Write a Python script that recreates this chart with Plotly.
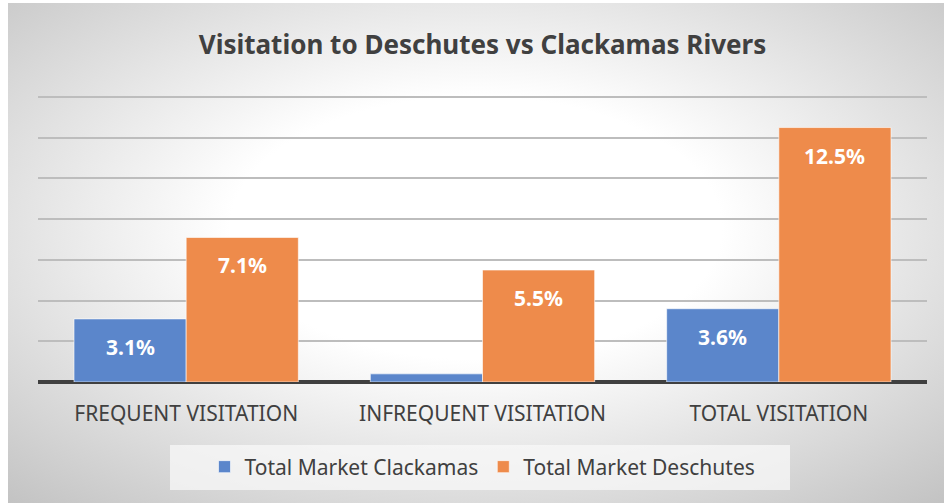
import plotly.graph_objects as go

# ── Data ──
categories = ["FREQUENT VISITATION", "INFREQUENT VISITATION", "TOTAL VISITATION"]
clackamas = [3.1, 0.4, 3.6]
deschutes = [7.1, 5.5, 12.5]
clackamas_labels = ["3.1%", "", "3.6%"]
deschutes_labels = ["7.1%", "5.5%", "12.5%"]

BLUE = "#5B86CB"
ORANGE = "#EE8B4B"
TEXT = "#404040"
FONT = "Noto Sans"

W, H = 944, 503
M = dict(l=38, r=17, t=96, b=121)
pw = W - M["l"] - M["r"]
ph = H - M["t"] - M["b"]

# radial gradient background (white centre, grey edges) as inline svg
bg_svg = (
    "data:image/svg+xml;utf8,"
    "<svg xmlns='http://www.w3.org/2000/svg' width='944' height='503'>"
    "<defs><radialGradient id='g' cx='0.5' cy='0.45' r='0.75'>"
    "<stop offset='0' stop-color='%23ffffff'/>"
    "<stop offset='0.35' stop-color='%23ffffff'/>"
    "<stop offset='1' stop-color='%23c2c2c2'/>"
    "</radialGradient></defs>"
    "<rect x='0' y='0' width='944' height='503' fill='%23ffffff'/>"
    "<rect x='8' y='3' width='936' height='500' fill='url(%23g)'/>"
    "</svg>"
)

fig = go.Figure()
fig.add_trace(go.Bar(
    x=categories, y=clackamas, name="Total Market Clackamas",
    marker=dict(color=BLUE, line=dict(color="rgba(255,255,255,0.6)", width=1)),
))
fig.add_trace(go.Bar(
    x=categories, y=deschutes, name="Total Market Deschutes",
    marker=dict(color=ORANGE, line=dict(color="rgba(255,255,255,0.6)", width=1)),
))

# data labels, "inside end" like the original
bar_px = pw / 3 * (1 - 0.243) / 2
for vals, labels, shift in [(clackamas, clackamas_labels, -bar_px / 2),
                            (deschutes, deschutes_labels, bar_px / 2)]:
    for cat, v, lab in zip(categories, vals, labels):
        if not lab:
            continue
        fig.add_annotation(
            x=cat, y=v, xref="x", yref="y", text=f"<b>{lab}</b>",
            showarrow=False, xshift=shift, yshift=-28, yanchor="middle",
            font=dict(family=FONT, size=21, color="white"),
        )

# legend backing box
fig.add_shape(
    type="rect", xref="paper", yref="paper", layer="below",
    x0=(170 - M["l"]) / pw, x1=(790 - M["l"]) / pw,
    y0=(M["t"] + ph - 490) / ph, y1=(M["t"] + ph - 445) / ph,
    line=dict(width=0), fillcolor="rgba(248,248,248,0.75)",
)

fig.add_layout_image(
    source=bg_svg, xref="paper", yref="paper",
    x=-M["l"] / pw, y=1 + M["t"] / ph, sizex=W / pw, sizey=H / ph,
    xanchor="left", yanchor="top", sizing="stretch", layer="below",
)

fig.update_layout(
    width=W, height=H, margin=dict(M, autoexpand=False),
    paper_bgcolor="rgba(0,0,0,0)", plot_bgcolor="rgba(0,0,0,0)",
    barmode="group", bargap=0.243, bargroupgap=0,
    title=dict(
        text="<b>Visitation to Deschutes vs Clackamas Rivers</b>",
        x=0.5, xref="paper", xanchor="center", y=1 - 45 / H, yanchor="middle",
        font=dict(family=FONT, size=26, color=TEXT),
    ),
    font=dict(family=FONT, color=TEXT),
    xaxis=dict(
        showgrid=False, showline=False, ticks="", zeroline=False,
        ticklabelstandoff=17,
        tickfont=dict(family=FONT, size=21, color=TEXT),
    ),
    yaxis=dict(
        range=[0, 14.05], tickvals=[2, 4, 6, 8, 10, 12, 14], showticklabels=False, ticks="",
        gridcolor="#bdbdbd", gridwidth=1.5,
        zeroline=True, zerolinecolor="#404040", zerolinewidth=4,
    ),
    legend=dict(
        orientation="h", x=0.5, xanchor="center", xref="paper",
        yref="container", y=1 - 467 / H, yanchor="middle",
        bgcolor="rgba(0,0,0,0)", font=dict(family=FONT, size=21, color=TEXT),
        itemwidth=30, traceorder="normal",
    ),
    showlegend=True,
)

fig.write_html(
    "out.html",
    config={"displayModeBar": False},
    post_script="document.body.style.margin='0';",
)
